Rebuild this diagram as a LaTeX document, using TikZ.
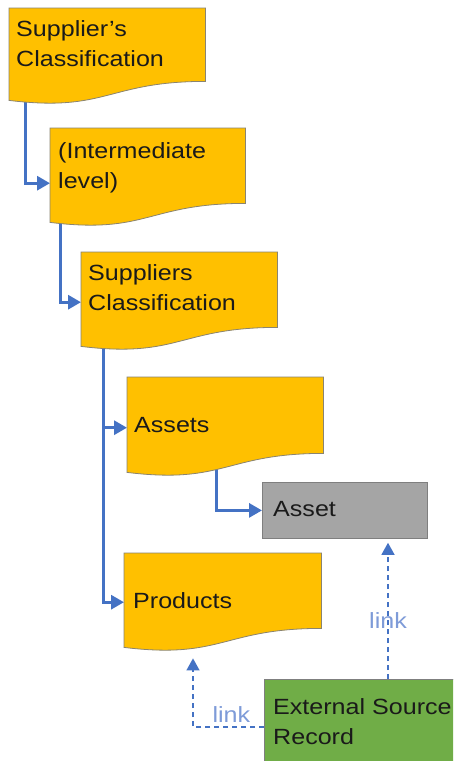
\documentclass[tikz,border=0pt]{standalone}
\usepackage{fontspec}
\setmainfont{Liberation Sans}[FakeStretch=1.14]
\usetikzlibrary{arrows.meta,calc}
\pgfdeclarelayer{connlayer}
\pgfdeclarelayer{shapelayer}
\pgfsetlayers{connlayer,shapelayer,main}
\definecolor{gold}{HTML}{FFC000}
\definecolor{goldline}{HTML}{8A8470}
\definecolor{greybox}{HTML}{A5A5A5}
\definecolor{greyline}{HTML}{7F7F7F}
\definecolor{greenbox}{HTML}{70AD47}
\definecolor{connblue}{HTML}{4472C4}
\definecolor{linkblue}{HTML}{7E9BD8}
\definecolor{txt}{HTML}{1A1A1A}
\tikzset{
  x=1pt, y=-1pt,
  docbox/.style={rectangle, draw=none, inner sep=0pt, anchor=north west},
  docfill/.style={fill=gold, draw=goldline, line width=0.8pt},
  plainbox/.style={rectangle, inner sep=0pt, anchor=north west, line width=0.8pt},
  labeltext/.style={anchor=base west, inner sep=0pt, text=txt, align=left,
    font=\fontsize{22}{30}\selectfont},
  conn/.style={draw=connblue, line width=3pt, -{Triangle[length=13pt,width=14pt]}},
  linkconn/.style={draw=connblue, line width=1.3pt, dash pattern=on 5pt off 4pt,
    -{Triangle[length=12pt,width=13pt]}},
  linklabel/.style={anchor=base, inner sep=0pt, text=linkblue,
    font=\fontsize{22}{30}\selectfont}
}
\newcommand\docpath[1]{%
  \path[docfill] (#1.north west) -- (#1.north east) -- ([yshift=19pt]#1.south east)
    .. controls ([yshift=19pt]#1.south) and ([yshift=-12pt]#1.south) .. (#1.south west) -- cycle;}
\begin{document}
\begin{tikzpicture}
\useasboundingbox (0,0) rectangle (453,761);
\begin{pgfonlayer}{connlayer}
  \fill[white] (0,0) rectangle (453,761);
\end{pgfonlayer}
\clip (0,0) rectangle (453,761);

% document shapes
\node[docbox, minimum width=196pt, minimum height=92pt] (d1) at (9,8) {};
\node[docbox, minimum width=195pt, minimum height=94pt] (d2) at (50,128) {};
\node[docbox, minimum width=196pt, minimum height=94pt] (d3) at (81,252) {};
\node[docbox, minimum width=196pt, minimum height=95pt] (d4) at (127,377) {};
\node[docbox, minimum width=197pt, minimum height=94pt] (d5) at (124,553) {};
\node[plainbox, fill=greybox, draw=greyline, minimum width=165pt, minimum height=56pt] (asset) at (262,482) {};
\node[plainbox, fill=greenbox, draw=greyline, minimum width=196pt, minimum height=92pt] (esr) at (264,679) {};

\begin{pgfonlayer}{shapelayer}
  \docpath{d1}
  \docpath{d2}
  \docpath{d3}
  \docpath{d4}
  \docpath{d5}
\end{pgfonlayer}

% texts (base anchor = last line baseline)
\node[labeltext] (t1) at ($(d1.north west)+(7,58)$) {Supplier's\\Classification};
\node[labeltext] (t2) at ($(d2.north west)+(8,60)$) {(Intermediate\\level)};
\node[labeltext] (t3) at ($(d3.north west)+(7,58)$) {Suppliers\\Classification};
\node[labeltext] (t4) at ($(d4.north west)+(7,55)$) {Assets};
\node[labeltext] (t5) at ($(d5.north west)+(9,55)$) {Products};
\node[labeltext] (t6) at ($(asset.north west)+(11,34)$) {Asset};
\node[labeltext] (t7) at ($(esr.north west)+(9,65)$) {External Source\\Record};

% connectors
\begin{pgfonlayer}{connlayer}
  \draw[conn] ($(d1.south west)+(16,-20)$) |- ($(d2.west)+(0,8)$);
  \draw[conn] ($(d2.south west)+(10,-20)$) |- ($(d3.west)+(0,3)$);
  \draw[conn] ($(d3.south west)+(22,-20)$) |- ($(d4.west)+(0,3)$);
  \draw[conn] ($(d3.south west)+(22,-20)$) |- ($(d5.west)+(0,2)$);
  \draw[conn] ($(d4.south west)+(89,-20)$) |- (asset.west);
  \draw[linkconn] ($(esr.north west)+(124,0)$) -- node[linklabel, pos=0.37] (l1) {link} ($(asset.south west)+(126,4)$);
  \draw[linkconn] ($(esr.north west)+(0,48)$) -| node[linklabel, pos=0.23, yshift=5pt] (l2) {link} ($(d5.south west)+(69,11)$);
\end{pgfonlayer}
\end{tikzpicture}
\end{document}
